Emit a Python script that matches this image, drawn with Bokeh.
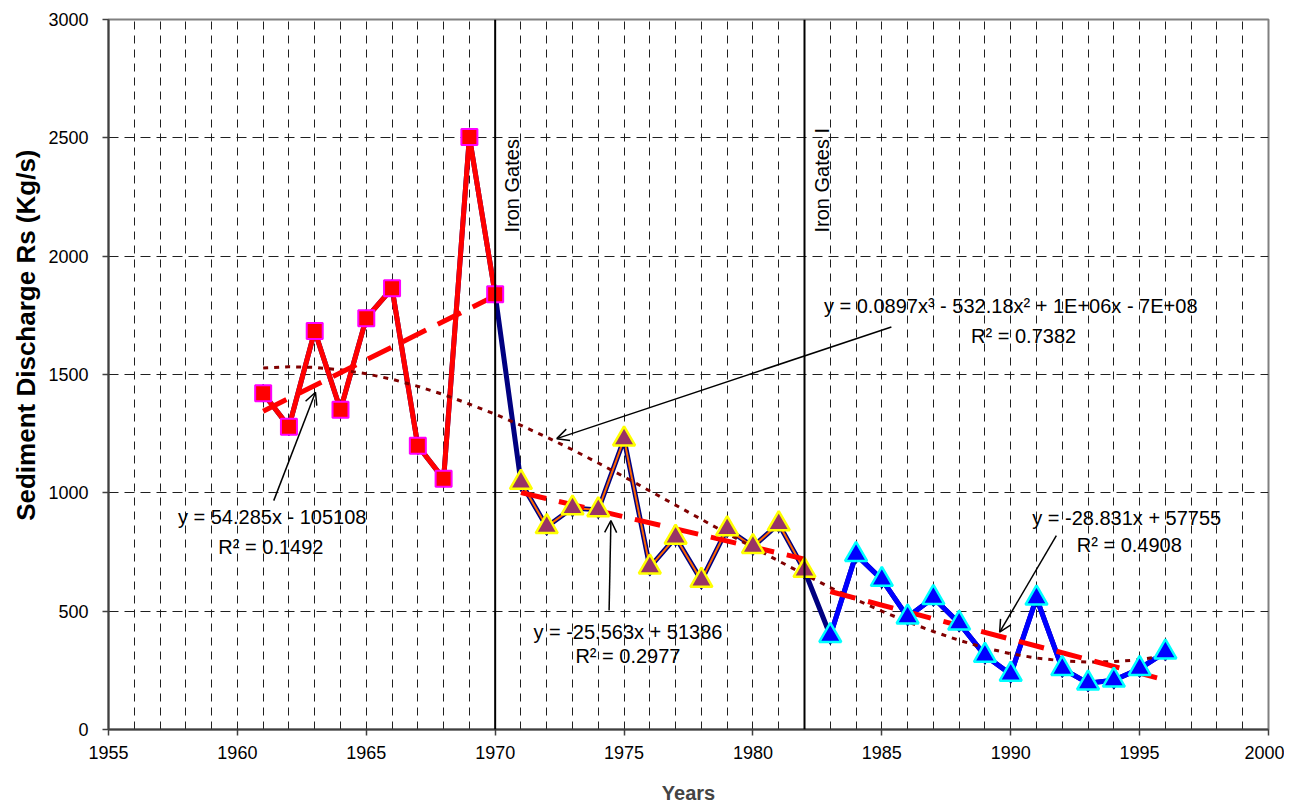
import math
from bokeh.plotting import figure
from bokeh.models import Range1d, FixedTicker, Span, Label, Arrow, OpenHead, Title
from bokeh.embed import file_html
from bokeh.resources import INLINE

# ---------------- data ----------------
years_pre = [1961, 1962, 1963, 1964, 1965, 1966, 1967, 1968, 1969, 1970]
rs_pre = [1421, 1279, 1684, 1351, 1738, 1864, 1199, 1059, 2504, 1839]

years_mid = [1971, 1972, 1973, 1974, 1975, 1976, 1977, 1978, 1979, 1980, 1981, 1982]
rs_mid = [1044, 857, 936, 928, 1227, 686, 812, 630, 848, 773, 869, 672]

years_post = [1983, 1984, 1985, 1986, 1987, 1988, 1989, 1990, 1991, 1992, 1993, 1994, 1995, 1996]
rs_post = [397, 739, 634, 475, 557, 449, 313, 233, 555, 257, 196, 208, 257, 327]

years_all = years_pre + years_mid + years_post
rs_all = rs_pre + rs_mid + rs_post

# linear trend lines (end points)
trend_pre_x = [1961, 1970]
trend_pre_y = [1345, 1833]
trend_mid_x = [1971, 1982]
trend_mid_y = [1001, 720]
trend_post_x = [1983, 1996]
trend_post_y = [583, 209]

# polynomial (cubic) trend line
poly_years = list(range(1961, 1997))
poly_values = [1527, 1533, 1530, 1520, 1503, 1480, 1450, 1415, 1375, 1332,
               1285, 1235, 1182, 1126, 1068, 1008, 948, 888, 828, 770,
               712, 655, 600, 548, 500, 455, 414, 377, 345, 320,
               302, 290, 285, 287, 295, 312]

x_ticks = [1955, 1960, 1965, 1970, 1975, 1980, 1985, 1990, 1995, 2000]
y_ticks = [0, 500, 1000, 1500, 2000, 2500, 3000]
x_grid = list(range(1956, 2000))
y_grid = [500, 1000, 1500, 2000, 2500]

dam_years = [1970, 1982]
dam_names = ["Iron Gates", "Iron Gates I"]

eq_texts = ["y = 54.285x - 105108", "R\u00b2 = 0.1492",
            "y = 0.0897x\u00b3 - 532.18x\u00b2 + 1E+06x - 7E+08", "R\u00b2 = 0.7382",
            "y = -25.563x + 51386", "R\u00b2 = 0.2977",
            "y = -28.831x + 57755", "R\u00b2 = 0.4908"]
eq_x = [1961.35, 1961.3, 1990.0, 1990.5, 1975.15, 1975.15, 1994.5, 1994.6]
eq_y = [900, 770, 1788, 1663, 414, 309, 895, 781]

# arrows: (x_start, y_start, x_end, y_end)
arrows = [
    (1961.41, 967, 1963.03, 1425),
    (1985.37, 1701, 1972.39, 1229),
    (1974.42, 503, 1974.49, 883),
    (1991.77, 819, 1989.57, 411),
]

FONT = "Liberation Sans"

p = figure(width=1284, height=806, output_backend="svg", toolbar_location=None,
           x_range=Range1d(1955, 2000), y_range=Range1d(0, 3000),
           min_border_left=108, min_border_right=16, min_border_top=19, min_border_bottom=77)
p.background_fill_color = "white"
p.border_fill_color = "white"
p.outline_line_color = "#808080"
p.outline_line_width = 2

# axes
p.xaxis.ticker = FixedTicker(ticks=x_ticks)
p.yaxis.ticker = FixedTicker(ticks=y_ticks)
for ax in (p.xaxis, p.yaxis):
    ax.axis_line_color = "#404040"
    ax.axis_line_width = 2
    ax.major_tick_line_color = "#404040"
    ax.major_tick_line_width = 1.5
    ax.major_tick_out = 6
    ax.major_tick_in = 0
    ax.minor_tick_line_color = None
    ax.major_label_text_font = FONT
    ax.major_label_text_font_size = "18px"
    ax.major_label_text_color = "black"
p.xaxis.major_label_standoff = 10
p.yaxis.major_label_standoff = 14
p.xaxis.axis_label = "Years"
p.xaxis.axis_label_text_font = FONT
p.xaxis.axis_label_text_font_size = "20px"
p.xaxis.axis_label_text_font_style = "bold"
p.xaxis.axis_label_standoff = 20

# y-axis title placed in the left panel, shifted up like the reference
ytitle = Title(text="Sediment Discharge Rs (Kg/s)", align="right", offset=130,
               text_font=FONT, text_font_size="26px", text_font_style="bold",
               text_color="black")
p.add_layout(ytitle, "left")

# grids
p.xgrid.ticker = FixedTicker(ticks=x_grid)
p.ygrid.ticker = FixedTicker(ticks=y_grid)
p.xgrid.grid_line_color = "#202020"
p.xgrid.grid_line_dash = "8 6"
p.xgrid.grid_line_width = 1
p.ygrid.grid_line_color = "#202020"
p.ygrid.grid_line_dash = "10 6"
p.ygrid.grid_line_width = 1

# dam lines
for yr, name in zip(dam_years, dam_names):
    p.add_layout(Span(location=yr, dimension="height", line_color="black", line_width=2))
    p.add_layout(Label(x=yr, y=2100, x_offset=17, text=name, angle=math.pi / 2,
                       text_align="left", text_baseline="middle",
                       text_font=FONT, text_font_size="20px", text_color="black"))

# series lines
p.line(years_all, rs_all, line_color="#000080", line_width=5)
p.line(years_pre, rs_pre, line_color="#FF0000", line_width=5)
p.line(years_mid, rs_mid, line_color="#FF6600", line_width=2)
p.line(years_post, rs_post, line_color="#0000FF", line_width=5)

# trend lines
p.line(poly_years, poly_values, line_color="#800000", line_width=3, line_dash="5 6")
p.line(trend_pre_x, trend_pre_y, line_color="#FF0000", line_width=5, line_dash="26 13")
p.line(trend_mid_x, trend_mid_y, line_color="#FF0000", line_width=5, line_dash="26 13")
p.line(trend_post_x, trend_post_y, line_color="#FF0000", line_width=5, line_dash="26 13")

# markers
p.scatter(years_all, rs_all, marker="diamond", size=18, fill_color="#000080", line_color="#000080")
p.scatter(years_pre, rs_pre, marker="square", size=16, fill_color="#FF0000",
          line_color="#FF00FF", line_width=2)
p.scatter(years_mid, rs_mid, marker="triangle", size=22, fill_color="#993366",
          line_color="#FFFF00", line_width=2.5)
p.scatter(years_post, rs_post, marker="triangle", size=22, fill_color="#0000FF",
          line_color="#00FFFF", line_width=2.5)

# equation labels
for t, x, y in zip(eq_texts, eq_x, eq_y):
    p.add_layout(Label(x=x, y=y, text=t, text_align="center", text_baseline="middle",
                       text_font=FONT, text_font_size="20px", text_color="black"))

for xs, ys, xe, ye in arrows:
    p.add_layout(Arrow(end=OpenHead(size=12, line_color="black", line_width=1.5),
                       x_start=xs, y_start=ys, x_end=xe, y_end=ye,
                       line_color="black", line_width=1.5))

open("out.html", "w").write(file_html(p, INLINE))
